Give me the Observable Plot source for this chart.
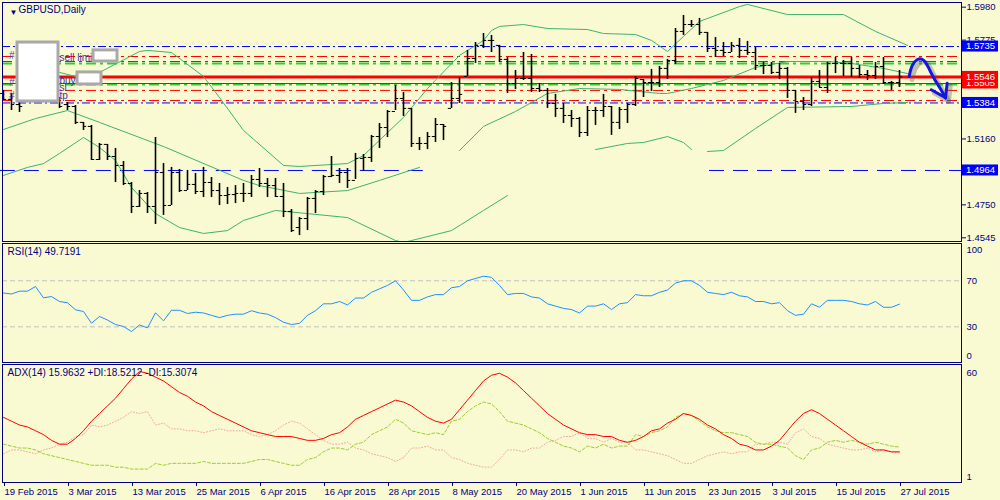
<!DOCTYPE html>
<html><head><meta charset="utf-8">
<script src="https://cdn.jsdelivr.net/npm/d3@7"></script>
<script src="https://cdn.jsdelivr.net/npm/@observablehq/plot@0.6"></script>
<style>
body{margin:0;background:#fafad2;}
#wrap{position:relative;width:1000px;height:500px;background:#fafad2;overflow:hidden;}
#wrap svg{position:absolute;left:0;}
</style></head><body><div id="wrap"></div>
<script>
// ---------- DATA ----------
const tickLabels = ["19 Feb 2015","3 Mar 2015","13 Mar 2015","25 Mar 2015","6 Apr 2015","16 Apr 2015","28 Apr 2015","8 May 2015","20 May 2015","1 Jun 2015","11 Jun 2015","23 Jun 2015","3 Jul 2015","15 Jul 2015","27 Jul 2015"];
const tickIndex = [0,8,16,24,32,40,48,56,64,72,80,88,96,104,112];
// visible price scale labels (others are covered by the coloured price tags)
const priceTicks = [1.4545,1.4750,1.5160,1.5775,1.5980];

const barOpen = [1.5443,1.5406,1.5374,1.5399,1.5431,1.5462,1.5449,1.5412,1.5374,1.5362,
1.5263,1.5238,1.5032,1.5126,1.5051,1.4995,1.4883,1.4740,1.4821,1.4740,
1.4951,1.4746,1.4951,1.4839,1.4877,1.4833,1.4889,1.4839,1.4808,1.4814,
1.4821,1.4821,1.4908,1.4883,1.4870,1.4802,1.4709,1.4609,1.4665,1.4790,
1.4833,1.4926,1.4933,1.4951,1.4902,1.5039,1.5045,1.5175,1.5231,1.5331,
1.5412,1.5350,1.5132,1.5132,1.5175,1.5250,1.5350,1.5412,1.5549,1.5661,
1.5742,1.5773,1.5742,1.5655,1.5505,1.5536,1.5536,1.5474,1.5462,1.5381,
1.5350,1.5306,1.5287,1.5200,1.5337,1.5337,1.5362,1.5263,1.5343,1.5374,
1.5530,1.5511,1.5511,1.5599,1.5648,1.5829,1.5872,1.5872,1.5823,1.5723,
1.5711,1.5698,1.5742,1.5711,1.5698,1.5617,1.5617,1.5574,1.5599,1.5462,
1.5393,1.5374,1.5518,1.5480,1.5630,1.5630,1.5630,1.5599,1.5561,1.5555,
1.5611,1.5511,1.5511];
const barHigh = [1.5462,1.5443,1.5399,1.5474,1.5487,1.5493,1.5462,1.5418,1.5387,1.5368,
1.5263,1.5244,1.5132,1.5126,1.5101,1.5020,1.4889,1.4839,1.4827,1.5169,
1.5007,1.4983,1.4970,1.4964,1.4945,1.4983,1.4920,1.4883,1.4858,1.4870,
1.4883,1.4933,1.4976,1.4914,1.4914,1.4883,1.4721,1.4671,1.4796,1.4839,
1.4933,1.5051,1.4976,1.4976,1.5070,1.5063,1.5182,1.5256,1.5337,1.5493,
1.5449,1.5350,1.5169,1.5200,1.5287,1.5250,1.5511,1.5543,1.5711,1.5760,
1.5816,1.5804,1.5742,1.5667,1.5586,1.5698,1.5686,1.5505,1.5474,1.5437,
1.5381,1.5337,1.5294,1.5362,1.5356,1.5437,1.5362,1.5356,1.5381,1.5549,
1.5530,1.5592,1.5611,1.5655,1.5847,1.5928,1.5897,1.5910,1.5823,1.5791,
1.5760,1.5760,1.5785,1.5767,1.5729,1.5636,1.5636,1.5630,1.5605,1.5462,
1.5418,1.5543,1.5586,1.5636,1.5667,1.5648,1.5667,1.5617,1.5586,1.5636,
1.5667,1.5518,1.5586];
const barLow = [1.5399,1.5337,1.5325,1.5399,1.5412,1.5406,1.5393,1.5350,1.5337,1.5250,
1.5213,1.5026,1.5026,1.5026,1.4889,1.4870,1.4696,1.4734,1.4696,1.4628,
1.4684,1.4746,1.4827,1.4839,1.4814,1.4796,1.4796,1.4746,1.4752,1.4758,
1.4765,1.4796,1.4858,1.4796,1.4796,1.4671,1.4578,1.4559,1.4590,1.4696,
1.4808,1.4920,1.4883,1.4852,1.4908,1.4958,1.5014,1.5101,1.5169,1.5337,
1.5300,1.5107,1.5088,1.5094,1.5138,1.5150,1.5350,1.5381,1.5549,1.5630,
1.5723,1.5698,1.5636,1.5443,1.5468,1.5524,1.5449,1.5449,1.5350,1.5294,
1.5256,1.5231,1.5169,1.5175,1.5244,1.5294,1.5182,1.5219,1.5256,1.5362,
1.5418,1.5455,1.5480,1.5530,1.5624,1.5804,1.5854,1.5804,1.5698,1.5667,
1.5673,1.5698,1.5661,1.5680,1.5586,1.5561,1.5561,1.5530,1.5412,1.5319,
1.5337,1.5362,1.5480,1.5443,1.5567,1.5549,1.5543,1.5536,1.5524,1.5530,
1.5499,1.5462,1.5480];
const barClose = [1.5406,1.5374,1.5362,1.5431,1.5462,1.5449,1.5412,1.5362,1.5362,1.5263,
1.5238,1.5032,1.5126,1.5051,1.4995,1.4883,1.4740,1.4821,1.4740,1.4951,
1.4746,1.4951,1.4839,1.4877,1.4833,1.4889,1.4839,1.4808,1.4814,1.4821,
1.4821,1.4908,1.4883,1.4870,1.4802,1.4709,1.4590,1.4665,1.4790,1.4833,
1.4926,1.4933,1.4951,1.4902,1.5039,1.5045,1.5175,1.5231,1.5331,1.5412,
1.5350,1.5132,1.5132,1.5175,1.5250,1.5238,1.5412,1.5437,1.5661,1.5742,
1.5773,1.5773,1.5655,1.5505,1.5536,1.5536,1.5474,1.5462,1.5381,1.5350,
1.5306,1.5287,1.5200,1.5337,1.5337,1.5362,1.5263,1.5343,1.5374,1.5536,
1.5511,1.5511,1.5599,1.5648,1.5829,1.5872,1.5872,1.5823,1.5723,1.5711,
1.5698,1.5742,1.5711,1.5698,1.5617,1.5617,1.5574,1.5599,1.5462,1.5393,
1.5374,1.5518,1.5480,1.5630,1.5630,1.5630,1.5599,1.5561,1.5555,1.5611,
1.5511,1.5511,1.5546];

// Bollinger bands: [bar index, price]; null = not drawn
const bbUpper = [[3,1.5561],[7,1.5574],[9,1.5549],[12,1.5574],[17,1.5704],[18,1.5711],[21,1.5698],[25,1.5549],[27,1.5418],[30,1.5213],[35,1.4995],[37,1.4989],[43,1.5007],[45,1.5057],[50,1.5294],[53,1.5474],[57,1.5680],[60,1.5773],[61,1.5835],[62,1.5860],[65,1.5872],[68,1.5847],[73,1.5841],[75,1.5816],[79,1.5810],[81,1.5773],[83,1.5704],[85,1.5798],[87,1.5891],[92,1.5984],[93,1.5997],[98,1.5934],[105,1.5934],[109,1.5829],[113,1.5742]];
const bbMiddle = [[0,1.5219],[4,1.5287],[8,1.5337],[12,1.5263],[20,1.5113],[30,1.4902],[32,1.4870],[37,1.4821],[43,1.4839],[47,1.4902],[52,1.4983],[54,null],[57,1.5088],[60,1.5238],[64,1.5331],[68,1.5443],[72,1.5474],[77,1.5468],[82,1.5443],[83,1.5443],[86,1.5474],[90,1.5524],[94,1.5605],[98,1.5642],[103,1.5642],[106,1.5630],[110,1.5599],[113,1.5567]];
const bbLower = [[0,1.4933],[3,1.4983],[5,1.5007],[7,1.5070],[10,1.5169],[12,1.5107],[14,1.5026],[16,1.4858],[19,1.4696],[22,1.4609],[25,1.4572],[28,1.4590],[30,1.4653],[34,1.4715],[43,1.4671],[49,1.4528],[50,1.4516],[51,1.4528],[56,1.4590],[60,1.4715],[63,1.4808],[68,null],[74,1.5094],[78,1.5132],[80,1.5138],[83,1.5175],[85,1.5138],[86,1.5094],[87,null],[88,1.5082],[90,1.5088],[94,1.5225],[98,1.5356],[106,1.5362],[110,1.5381],[113,1.5387]];

// horizontal levels
const blueLevels = [1.5735, 1.5384];
const redDashLevels = [1.5673, 1.5642, 1.5462, 1.5399];
const greenDashLevels = [1.5630, 1.5499];
const orderLevel = 1.5546;
const thinRedLevel = 1.5505;
const supportLevel = 1.4964;
const supportSegments = [[-0.4, 52.5], [88.25, 119.75]];
const priceTags = [
  {v: 1.5735, color: "#0000ff"},
  {v: 1.5505, color: "#ff0000"},
  {v: 1.5546, color: "#ff0000"},
  {v: 1.5384, color: "#0000ff"},
  {v: 1.4964, color: "#0000ff"}
];
// overlay boxes and order labels
const whiteBoxes = [
  {x1: 1.75, x2: 6.875, y1: 1.5393, y2: 1.5760},
  {x1: 11.25, x2: 14.25, y1: 1.5642, y2: 1.5711},
  {x1: 9.25, x2: 12.25, y1: 1.5499, y2: 1.5574}
];
const orderLabels = [
  {i: 7.0, p: 1.5667, t: "sell limit"},
  {i: 7.0, p: 1.5524, t: "buy"},
  {i: 7.0, p: 1.5480, t: "sl"},
  {i: 7.0, p: 1.5431, t: "tp"},
  {i: 0.7, p: 1.5680, t: "#"},
  {i: 0.7, p: 1.5511, t: "#"},
  {i: 0.7, p: 1.5431, t: "#"}
];
// hand-drawn forecast arrow
const arrowPath = [[113.2,1.5549],[113.6,1.5617],[114.2,1.5653],[114.8,1.5657],[115.25,1.5636],[116.25,1.5543],[117.1,1.5474],[117.75,1.5416]];
const arrowHead = [[115.97,1.5466],[117.75,1.5416],[117.96,1.5507]];

// RSI(14)
const rsi = [59.4,58.5,61,61,65,55.2,56.3,52,50.9,44.8,
43.3,33.1,39,35.9,32,30.3,25.9,31.6,29.1,42.2,
35.2,44.4,44.4,41.6,42.7,42,40,38,40,41,
41,44,42,41,38,34,32,33,40,44,
50,50,52,49,55,55,60,63,66,70,
62,53,53,56,58,58,64,65,70,72,
74,73,66,58,59,59,56,55,50,48,
46,45,42,48,48,50,45,50,51,58,
57,57,60,62,68,70,70,66,60,59,
58,60,57,56,52,52,50,51,44,40,
41,50,47,53,53,53,52,50,49,52,
47,47,49.7];
// ADX(14), +DI, -DI
const adx = [34,32,30,29,27,25,22,20,20,23,
27,32,36,40,44,49,54,58,57,55,
53,50,47,45,42,40,37,35,33,31,
29,27,26,25,24,24,24,23,22,22,
23,25,26,29,33,35,37,39,41,43,
42,40,37,34,32,31,33,38,43,48,
53,56,57,55,52,48,44,40,36,33,
30,28,26,25,25,24,24,22,21,22,
24,27,28,31,33,36,35,33,30,28,
25,23,20,19,17,17,19,22,27,32,
36,38,36,33,30,27,24,21,19,17,
17,16,16];
const plusDI = [20,19,18,18,17,15,14,13,12,11,
10,9,9,9,8,8,7,7,7,10,
9,10,10,10,10,11,10,10,10,10,
10,11,12,12,11,10,9,9,12,13,
16,18,18,17,20,21,25,27,29,33,
31,27,26,25,26,25,32,33,37,40,
42,41,37,32,31,30,28,26,23,21,
19,18,16,19,18,20,18,19,19,25,
24,26,27,29,34,36,35,32,29,27,
26,26,25,24,21,20,20,19,18,14,
12,17,18,21,22,21,22,21,20,21,
20,19,18.5];
const minusDI = [15,17,17,16,15,17,18,20,21,24,
25,30,29,30,32,34,37,36,37,30,
31,28,28,27,27,26,27,28,27,27,
27,25,24,25,27,30,32,31,28,25,
22,20,20,21,18,17,15,14,13,11,
13,18,18,19,17,17,13,12,10,9,
8,8,12,17,17,16,18,18,21,22,
24,24,26,23,23,21,23,21,21,17,
17,16,15,14,12,10,10,12,14,15,
16,15,16,16,20,20,21,21,20,26,
28,24,23,20,19,18,17,17,18,16,
17,16,15.3];

// ---------- LAYOUT ----------
const W = 1000, ML = 2, MR = 39;
const xDomain = [-0.125, 119.75];
const FONT = "'Liberation Sans', Arial, sans-serif";
const NAVY = "#000080";
const baseStyle = {background: "transparent", fontFamily: FONT, fontSize: "9.5px", color: NAVY, overflow: "visible"};
const bars = barClose.map((c, i) => ({i, o: barOpen[i], h: barHigh[i], l: barLow[i], c}));
const wrap = document.getElementById("wrap");

// ---------- MAIN PANEL ----------
const main = Plot.plot({
  width: W, height: 242, marginTop: 2, marginBottom: 1, marginLeft: ML, marginRight: MR,
  style: baseStyle,
  x: {domain: xDomain, axis: null},
  y: {domain: [1.4522, 1.6009], axis: null},
  marks: [
    Plot.ruleY(supportSegments, {y: supportLevel, x1: d => d[0], x2: d => d[1], stroke: "#0000ff", strokeDasharray: "15,9"}),
    Plot.ruleY(greenDashLevels, {stroke: "#32cd32", strokeWidth: 2, strokeDasharray: "10,4,3,4"}),
    Plot.ruleY(redDashLevels, {stroke: "#ff0000", strokeWidth: 1, strokeDasharray: "10,4,3,4"}),
    Plot.ruleY(blueLevels, {stroke: "#0000ff", strokeWidth: 1, strokeDasharray: "8,3,2,3"}),
    Plot.ruleY([thinRedLevel], {stroke: "#ff0000", strokeWidth: 1}),
    Plot.ruleY([orderLevel], {stroke: "#ff0000", strokeWidth: 3}),
    Plot.line(bbUpper, {x: d => d[0], y: d => d[1], stroke: "#3cb371", strokeWidth: 1, clip: true}),
    Plot.line(bbMiddle, {x: d => d[0], y: d => d[1], stroke: "#3cb371", strokeWidth: 1, clip: true}),
    Plot.line(bbLower, {x: d => d[0], y: d => d[1], stroke: "#3cb371", strokeWidth: 1, clip: true}),
    Plot.ruleX(bars, {x: "i", y1: "l", y2: "h", stroke: "#000", strokeWidth: 1.6}),
    Plot.ruleY(bars, {y: "o", x1: d => d.i - 0.4, x2: "i", stroke: "#000", strokeWidth: 1}),
    Plot.ruleY(bars, {y: "c", x1: "i", x2: d => d.i + 0.4, stroke: "#000", strokeWidth: 1}),
    Plot.text(orderLabels, {x: "i", y: "p", text: "t", textAnchor: "start", fill: "#3838a8", fontSize: 10}),
    Plot.rect(whiteBoxes, {x1: "x1", x2: "x2", y1: "y1", y2: "y2", fill: "#ffffff", stroke: "#a9a9a9", strokeWidth: 3}),
    Plot.line(arrowPath, {x: d => d[0], y: d => d[1], curve: "catmull-rom", stroke: "#555", strokeOpacity: 0.35, strokeWidth: 5, dx: 3, dy: 3}),
    Plot.line(arrowHead, {x: d => d[0], y: d => d[1], stroke: "#555", strokeOpacity: 0.35, strokeWidth: 5, dx: 3, dy: 3}),
    Plot.line(arrowPath, {x: d => d[0], y: d => d[1], curve: "catmull-rom", stroke: "#1414e6", strokeWidth: 3}),
    Plot.line(arrowHead, {x: d => d[0], y: d => d[1], stroke: "#1414e6", strokeWidth: 3}),
    Plot.text(["▼"], {frameAnchor: "top-left", dx: 7, dy: 7, fontSize: 8, fill: NAVY}),
    Plot.text(["GBPUSD,Daily"], {frameAnchor: "top-left", dx: 16, dy: 3, textAnchor: "start", lineAnchor: "top", fill: NAVY, fontSize: 10}),
    Plot.axisY({anchor: "right", ticks: priceTicks, tickFormat: d => d.toFixed(4), tickSize: 4, tickPadding: 1, label: null, fontSize: 9.5}),
    Plot.frame({stroke: NAVY})
  ]
});
main.style.top = "0px";
wrap.appendChild(main);
{
  const sy = main.scale("y");
  const g = d3.select(main).append("g").attr("font-family", FONT).attr("font-size", 9.5).attr("text-anchor", "start");
  const x0 = W - MR + 1;
  for (const t of priceTags) {
    const yy = sy.apply(t.v);
    g.append("rect").attr("x", x0).attr("y", yy - 5.5).attr("width", W - x0 - 2).attr("height", 11).attr("fill", t.color);
    g.append("text").attr("x", x0 + 4).attr("y", yy).attr("dy", "0.36em").attr("text-anchor", "start").attr("fill", "#fff").text(t.v.toFixed(4));
  }
}

// ---------- RSI PANEL ----------
const rsiPlot = Plot.plot({
  width: W, height: 122, marginTop: 2, marginBottom: 1, marginLeft: ML, marginRight: MR,
  style: baseStyle,
  x: {domain: xDomain, axis: null},
  y: {domain: [-1, 102.4], axis: null},
  marks: [
    Plot.ruleY([30, 70], {stroke: "#c0c0c0", strokeDasharray: "5,3"}),
    Plot.line(rsi, {x: (d, i) => i, y: d => d, stroke: "#1e90ff", strokeWidth: 1}),
    Plot.text(["RSI(14) 49.7191"], {frameAnchor: "top-left", dx: 5, dy: 4, textAnchor: "start", lineAnchor: "top", fill: NAVY, fontSize: 10}),
    Plot.text([70, 30], {y: d => d, text: d => String(d), frameAnchor: "right", dx: 5, textAnchor: "start", fill: NAVY}),
    Plot.text([100], {y: d => d, text: d => String(d), frameAnchor: "right", dx: 5, dy: 4, textAnchor: "start", fill: NAVY}),
    Plot.text([0], {y: d => d, text: d => String(d), frameAnchor: "right", dx: 5, dy: -5, textAnchor: "start", fill: NAVY}),
    Plot.frame({stroke: NAVY})
  ]
});
rsiPlot.style.top = "241px";
wrap.appendChild(rsiPlot);

// ---------- ADX PANEL ----------
const adxPlot = Plot.plot({
  width: W, height: 138, marginTop: 2, marginBottom: 18, marginLeft: ML, marginRight: MR,
  style: baseStyle,
  x: {domain: xDomain, axis: null},
  y: {domain: [0, 61.6], axis: null},
  marks: [
    Plot.line(minusDI, {x: (d, i) => i, y: d => d, stroke: "#f2a6a0", strokeWidth: 1, strokeDasharray: "1,2"}),
    Plot.line(plusDI, {x: (d, i) => i, y: d => d, stroke: "#9acd32", strokeWidth: 1, strokeDasharray: "3,2"}),
    Plot.line(adx, {x: (d, i) => i, y: d => d, stroke: "#ff0000", strokeWidth: 1}),
    Plot.text(["ADX(14) 15.9632 +DI:18.5212 -DI:15.3074"], {frameAnchor: "top-left", dx: 5, dy: 4, textAnchor: "start", lineAnchor: "top", fill: NAVY, fontSize: 10}),
    Plot.text([60], {y: d => d, text: d => String(d), frameAnchor: "right", dx: 5, dy: 5, textAnchor: "start", fill: NAVY}),
    Plot.text([1], {y: d => d, text: d => String(d), frameAnchor: "right", dx: 5, dy: -4, textAnchor: "start", fill: NAVY}),
    Plot.axisX({anchor: "bottom", ticks: tickIndex, tickFormat: (d) => tickLabels[tickIndex.indexOf(d)], tickSize: 4, tickPadding: 2, textAnchor: "start", dx: 1, label: null, fontSize: 9.5}),
    Plot.frame({stroke: NAVY})
  ]
});
adxPlot.style.top = "362px";
wrap.appendChild(adxPlot);
</script></body></html>
